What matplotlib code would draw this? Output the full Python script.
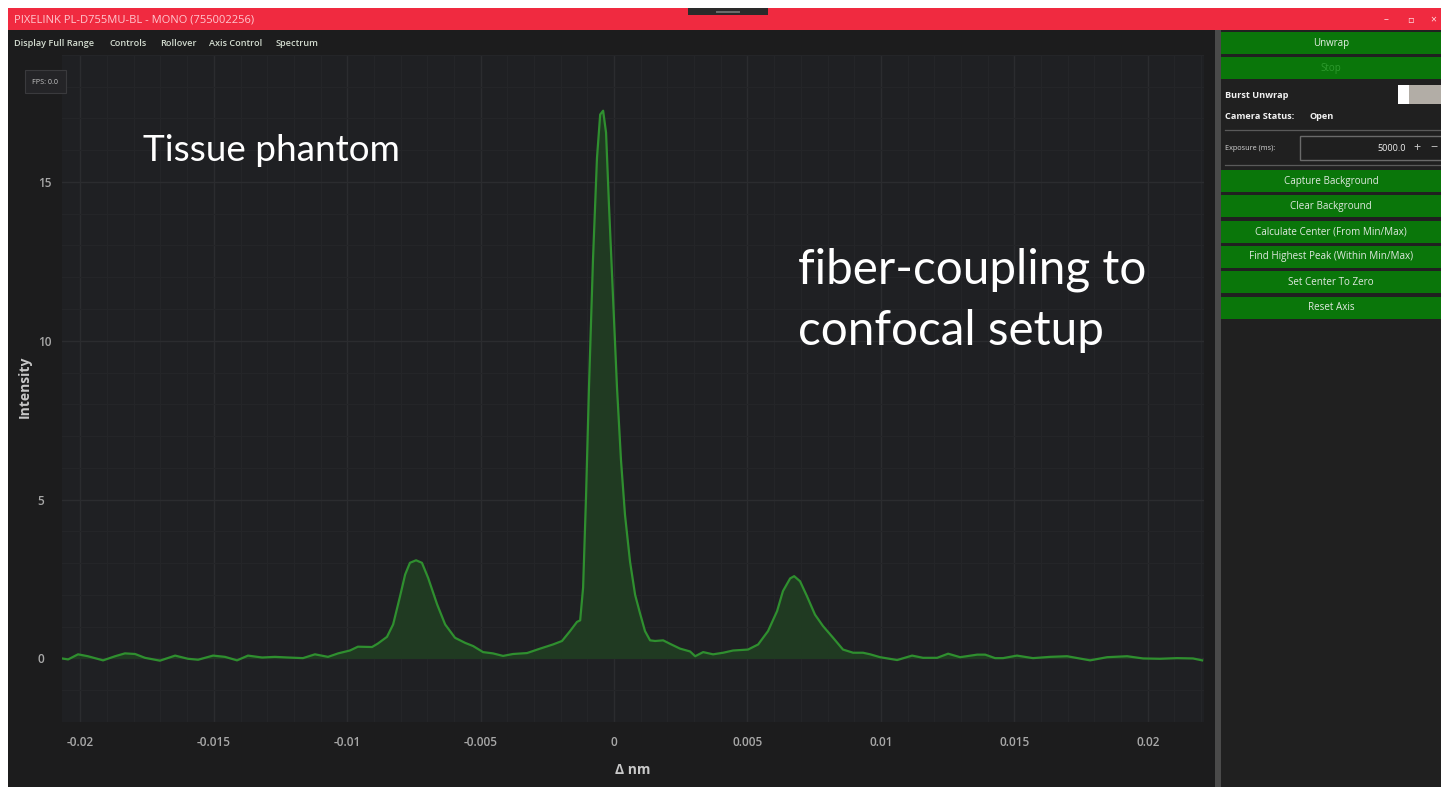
import matplotlib
matplotlib.use("Agg")
import matplotlib.pyplot as plt
from matplotlib.patches import Rectangle

# spectrum (delta nm, intensity)
delta_nm = [-0.02069, -0.02046, -0.02009, -0.01972, -0.01915, -0.01870, -0.01833, -0.01795,
            -0.01758, -0.01702, -0.01645, -0.01597, -0.01559, -0.01503, -0.01458, -0.01413,
            -0.01372, -0.01319, -0.01271, -0.01222, -0.01166, -0.01121, -0.01072, -0.01034,
            -0.00990, -0.00960, -0.00907, -0.00885, -0.00851, -0.00828, -0.00802, -0.00783,
            -0.00765, -0.00742, -0.00720, -0.00697, -0.00663, -0.00633, -0.00596, -0.00558,
            -0.00528, -0.00491, -0.00454, -0.00416, -0.00379, -0.00326, -0.00277, -0.00229,
            -0.00195, -0.00165, -0.00139, -0.00127, -0.00116, -0.00105, -0.00094, -0.00079,
            -0.00064, -0.00052, -0.00041, -0.00030, -0.00019, -0.00004, 0.00011, 0.00026,
            0.00041, 0.00060, 0.00079, 0.00097, 0.00116, 0.00135, 0.00154, 0.00184,
            0.00210, 0.00247, 0.00285, 0.00304, 0.00334, 0.00371, 0.00409, 0.00446,
            0.00502, 0.00540, 0.00577, 0.00611, 0.00633, 0.00660, 0.00675, 0.00697,
            0.00723, 0.00753, 0.00783, 0.00821, 0.00858, 0.00896, 0.00933, 0.00960,
            0.00997, 0.01061, 0.01117, 0.01158, 0.01211, 0.01252, 0.01297, 0.01361,
            0.01391, 0.01428, 0.01458, 0.01510, 0.01570, 0.01634, 0.01698, 0.01784,
            0.01848, 0.01923, 0.01983, 0.02046, 0.02110, 0.02170, 0.02204]
intensity = [0.00, -0.03, 0.13, 0.07, -0.06, 0.07, 0.16, 0.14,
             0.02, -0.07, 0.09, -0.01, -0.04, 0.09, 0.05, -0.06,
             0.09, 0.03, 0.05, 0.03, 0.01, 0.13, 0.05, 0.16,
             0.25, 0.37, 0.36, 0.47, 0.68, 1.07, 1.96, 2.64,
             3.01, 3.09, 3.01, 2.54, 1.70, 1.07, 0.65, 0.49,
             0.39, 0.20, 0.16, 0.08, 0.14, 0.17, 0.31, 0.44,
             0.55, 0.86, 1.15, 1.20, 2.23, 5.10, 8.53, 12.54,
             15.75, 17.12, 17.24, 16.55, 14.26, 11.40, 8.53, 6.24,
             4.52, 3.04, 2.00, 1.43, 0.86, 0.57, 0.55, 0.57,
             0.46, 0.31, 0.22, 0.07, 0.20, 0.13, 0.18, 0.25,
             0.28, 0.44, 0.86, 1.49, 2.12, 2.52, 2.59, 2.43,
             1.96, 1.38, 1.02, 0.65, 0.28, 0.18, 0.18, 0.13,
             0.04, -0.05, 0.09, 0.02, 0.02, 0.15, 0.04, 0.12,
             0.12, 0.01, 0.01, 0.09, 0.01, 0.05, 0.07, -0.06,
             0.04, 0.07, 0.00, -0.01, 0.01, 0.00, -0.06]

x_ticks = [-0.02, -0.015, -0.01, -0.005, 0, 0.005, 0.01, 0.015, 0.02]
x_tick_labels = ['-0.02', '-0.015', '-0.01', '-0.005', '0', '0.005', '0.01', '0.015', '0.02']
y_ticks = [0, 5, 10, 15]
y_tick_labels = ['0', '5', '10', '15']

menu_items = ['Display Full Range', 'Controls', 'Rollover', 'Axis Control', 'Spectrum']
menu_x = [14, 109, 160, 209, 276]
buttons_top = ['Unwrap', 'Stop']
buttons_bottom = ['Capture Background', 'Clear Background', 'Calculate Center (From Min/Max)',
                  'Find Highest Peak (Within Min/Max)', 'Set Center To Zero', 'Reset Axis']

W, H = 1441, 789
UI_FONT = ['Open Sans', 'DejaVu Sans']
BTN_GREEN = '#0a760a'

fig = plt.figure(figsize=(W / 100, H / 100), dpi=100, facecolor='white')

# pixel-space canvas for the window chrome
ui = fig.add_axes([0, 0, 1, 1])
ui.set_xlim(0, W)
ui.set_ylim(H, 0)
ui.axis('off')


def rect(x0, y0, x1, y1, fc, ec='none', lw=0, z=1, on=None):
    on = on or ui
    on.add_patch(Rectangle((x0, y0), x1 - x0, y1 - y0, facecolor=fc, edgecolor=ec, linewidth=lw,
                           zorder=z, transform=ui.transData, clip_on=False))


def txt(x, y, s, size=6.5, color='#e8efe8', ha='left', weight='normal', on=None, **kw):
    on = on or ui
    on.text(x, y, s, fontsize=size, color=color, ha=ha, va='center', weight=weight,
            family=UI_FONT, zorder=7, transform=ui.transData, **kw)


# window body, title bar, menu bar
rect(8, 8, W, 787, '#1c1c1d')
rect(8, 8, W, 30, '#f02a40', z=2)
rect(688, 8, 768, 15, '#2a2a2a', z=3)
rect(716, 11, 740, 12.5, '#6a6a6a', z=4)
txt(14, 19.5, 'PIXELINK PL-D755MU-BL - MONO (755002256)', size=8.0, color='#ffc8cf')
txt(1386, 20, '–', size=7, color='#ffe0e4', ha='center')
txt(1410, 20, '▫', size=7, color='#ffe0e4', ha='center')
txt(1433, 20, '×', size=7.5, color='#ffe0e4', ha='center')

for item, mx in zip(menu_items, menu_x):
    txt(mx, 43, item, size=6.6, color='#d3dcd0', weight='semibold')

# axis titles
txt(633, 770, 'Δ nm', size=10, color='#c8c8c8', ha='center', weight='bold')
txt(25, 387, 'Intensity', size=10, color='#c8c8c8', ha='center', weight='bold', rotation=90)

# right control panel
rect(1215, 30, 1221, 787, '#4a4a4a', z=2)
rect(1221, 30, W, 787, '#202020', z=2)
for i, label in enumerate(buttons_top):
    y0 = 32 + i * 25
    rect(1221, y0, W, y0 + 22, BTN_GREEN, z=3)
    txt(1331, y0 + 11, label, size=7, ha='center',
        color='#e6f0e6' if label != 'Stop' else '#2e9a2e')
for i, label in enumerate(buttons_bottom):
    y0 = 170 + i * 25.3
    rect(1221, y0, W, y0 + 22, BTN_GREEN, z=3)
    txt(1331, y0 + 11, label, size=7.1, ha='center', color='#dfe9df')

txt(1225, 95, 'Burst Unwrap', size=6.6, color='#f2f2f2', weight='bold')
rect(1398, 85, W, 104, '#b2ada6', z=3)
rect(1398, 85, 1409, 104, '#ffffff', z=4)
txt(1225, 116, 'Camera Status:', size=6.6, color='#f2f2f2', weight='bold')
txt(1309, 116, 'Open', size=6.6, color='#f2f2f2', weight='bold')
ui.plot([1225, W], [129.5, 129.5], color='#5a5a5a', lw=0.9, zorder=3)
ui.plot([1225, W], [165, 165], color='#5a5a5a', lw=0.9, zorder=3)
txt(1225, 148, 'Exposure (ms):', size=5.2, color='#d8d8d8')
rect(1300, 136, 1445, 160, '#1f1f1f', ec='#6a6a6a', lw=1.0, z=3)
txt(1406, 148, '5000.0', size=6.6, color='#f0f0f0', ha='right')
txt(1417, 147, '+', size=9, color='#c8c8c8', ha='center')
txt(1434, 147, '−', size=9, color='#c8c8c8', ha='center')

# the spectrum plot
left, right, top, bottom = 62, 1204, 54.8, 722
ax = fig.add_axes([left / W, 1 - bottom / H, (right - left) / W, (bottom - top) / H])
ax.set_zorder(3)
ax.set_facecolor('#1f2023')
ax.plot(delta_nm, intensity, color='#2f8f2f', lw=1.6, zorder=4)
ax.fill_between(delta_nm, intensity, 0, color='#203a22', lw=0, zorder=3)
ax.set_xlim(-0.02069, 0.02211)
ax.set_ylim(-2, 19)

ax.set_xticks(x_ticks)
ax.set_xticklabels(x_tick_labels)
ax.set_yticks(y_ticks)
ax.set_yticklabels(y_tick_labels)
ax.set_xticks([t / 1000 for t in range(-20, 23)], minor=True)
ax.set_yticks(range(-2, 20), minor=True)
ax.grid(which='major', color='#2b2c2f', lw=1.0, zorder=1)
ax.grid(which='minor', color='#242528', lw=0.8, zorder=0)
ax.set_axisbelow(True)
ax.tick_params(which='both', length=0)
ax.tick_params(axis='x', pad=10, labelsize=8.5, labelcolor='#a8a8a8')
ax.tick_params(axis='y', pad=17.5, labelsize=8.5, labelcolor='#a8a8a8')
for lab in ax.get_xticklabels() + ax.get_yticklabels():
    lab.set_family(UI_FONT)
    lab.set_weight('semibold')
for lab in ax.get_yticklabels():
    lab.set_ha('left')
for sp in ax.spines.values():
    sp.set_visible(False)

# FPS box sits over the plot corner
rect(25, 70, 66, 93, '#242427', ec='#3a3a3d', lw=0.8, z=6, on=ax)
txt(45.5, 82, 'FPS: 0.0', size=5.2, color='#c8c8c8', ha='center', on=ax)

# overlaid captions
ax.text(143, 150, 'Tissue phantom', transform=ui.transData, fontsize=26.6, color='white',
        family=['Lato', 'DejaVu Sans'], va='center', zorder=6)
ax.text(798, 300, 'fiber-coupling to\nconfocal setup', transform=ui.transData, fontsize=34.3,
        color='white', family=['Lato', 'DejaVu Sans'], va='center', linespacing=1.47, zorder=6)

fig.savefig('out.png', dpi=100, facecolor='white')
